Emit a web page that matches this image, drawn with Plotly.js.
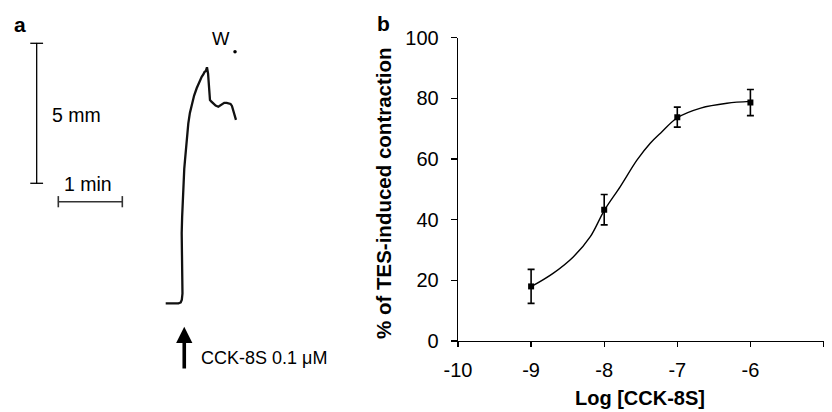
<!DOCTYPE html>
<html>
<head>
<meta charset="utf-8">
<script src="https://cdn.plot.ly/plotly-3.0.1.min.js"></script>
<style>html,body{margin:0;padding:0;background:#fff}#chart{width:832px;height:412px}</style>
</head>
<body>
<div id="chart"></div>
<script>
// ---------- Panel b: concentration-response data ----------
const logConc   = [-9, -8, -7, -6];
const pctContr  = [18.0, 43.3, 73.8, 78.6];
const pctSem    = [5.6, 5.0, 3.3, 4.3];
// fitted curve
const fitX = [-9.0, -8.7, -8.42, -8.19, -8.0, -7.78, -7.55, -7.37, -7.23, -7.0, -6.68, -6.32, -6.0];
const fitY = [17.9, 22.3, 27.8, 34.4, 43.0, 50.9, 59.7, 65.2, 68.5, 73.6, 76.8, 78.4, 79.0];
const xTickVals = [-10, -9, -8, -7, -6, -5];
const xTickText = ["-10", "-9", "-8", "-7", "-6", "-5"];
const yTickVals = [0, 20, 40, 60, 80, 100];

// ---------- Panel a: tension trace (time in min, tension in mm) ----------
const traceMin = [0.0, 0.20, 0.235, 0.252, 0.262, 0.259, 0.252, 0.247, 0.25, 0.257, 0.266, 0.278, 0.29, 0.302, 0.317, 0.333, 0.353, 0.378, 0.406, 0.444, 0.484, 0.525, 0.5625, 0.59, 0.606, 0.628, 0.645, 0.662, 0.678, 0.692, 0.715, 0.739, 0.78, 0.822, 0.85, 0.88, 0.915, 0.953, 0.985, 1.013, 1.035, 1.052, 1.075, 1.098];
const traceMM  = [0.0, 0.0, 0.03, 0.13, 0.35, 0.83, 1.40, 1.90, 2.51, 3.10, 3.69, 4.35, 4.80, 5.12, 5.56, 5.98, 6.42, 6.80, 7.10, 7.42, 7.68, 7.90, 8.09, 8.18, 8.26, 8.30, 8.43, 8.20, 7.60, 7.26, 7.20, 7.15, 7.06, 7.02, 7.06, 7.12, 7.16, 7.16, 7.15, 7.12, 7.05, 6.90, 6.73, 6.55];
// scale bars: 5 mm vertical, 1 min horizontal
const scaleVertMin = [-2.016, -2.016];
const scaleVertMM  = [4.286, 9.286];
const scaleHorMin  = [-1.678, -0.678];
const scaleHorMM   = [3.629, 3.629];
const washMin = [1.083];
const washMM  = [8.986];

const FONT = "Liberation Sans, Arial, Helvetica, sans-serif";
const black = "#000";

const traces = [
  // panel b fitted curve
  {x: fitX, y: fitY, xaxis: "x", yaxis: "y", mode: "lines",
   line: {color: black, width: 1.4, shape: "spline", smoothing: 1.0}, hoverinfo: "skip"},
  // panel b data points
  {x: logConc, y: pctContr, xaxis: "x", yaxis: "y", mode: "markers",
   marker: {symbol: "square", size: 6, color: black},
   error_y: {type: "data", array: pctSem, visible: true, color: black, thickness: 1.6, width: 3.5}},
  // panel a trace
  {x: traceMin, y: traceMM, xaxis: "x2", yaxis: "y2", mode: "lines",
   line: {color: "#111", width: 2.3, shape: "linear"}, hoverinfo: "skip"},
  // scale bars
  {x: scaleVertMin, y: scaleVertMM, xaxis: "x2", yaxis: "y2", mode: "lines",
   line: {color: black, width: 1.3}, hoverinfo: "skip"},
  {x: scaleHorMin, y: scaleHorMM, xaxis: "x2", yaxis: "y2", mode: "lines",
   line: {color: "#333", width: 1.6}, hoverinfo: "skip"},
  // end caps for the scale bars
  {x: scaleVertMin, y: scaleVertMM, xaxis: "x2", yaxis: "y2", mode: "markers",
   marker: {size: 1, color: black},
   error_x: {type: "constant", value: 0.1, color: black, thickness: 1.3, width: 0}, hoverinfo: "skip"},
  {x: scaleHorMin, y: scaleHorMM, xaxis: "x2", yaxis: "y2", mode: "markers",
   marker: {size: 1, color: "#333"},
   error_y: {type: "constant", value: 0.2, color: "#333", thickness: 1.6, width: 0}, hoverinfo: "skip"},
  // wash-out dot
  {x: washMin, y: washMM, xaxis: "x2", yaxis: "y2", mode: "markers",
   marker: {size: 3.5, color: black}, hoverinfo: "skip"}
];

const W = 832, H = 412;
const layout = {
  width: W, height: H,
  margin: {l: 0, r: 0, t: 0, b: 0},
  paper_bgcolor: "#fff", plot_bgcolor: "rgba(0,0,0,0)",
  showlegend: false,
  font: {family: FONT, color: black},
  xaxis: {
    domain: [458 / W, 823.5 / W], anchor: "y",
    range: [-10, -5], tickvals: xTickVals, ticktext: xTickText,
    showgrid: false, zeroline: false, showline: true, linecolor: black, linewidth: 1.3,
    ticks: "outside", ticklen: 5, tickwidth: 1.3, tickcolor: black,
    tickfont: {size: 20, family: FONT, color: black}, ticklabelstandoff: 6
  },
  yaxis: {
    domain: [1 - 341 / H, 1 - 37.7 / H], anchor: "x",
    range: [0, 100], tickvals: yTickVals,
    showgrid: false, zeroline: false, showline: true, linecolor: black, linewidth: 1.3,
    ticks: "outside", ticklen: 6, tickwidth: 1.3, tickcolor: black,
    tickfont: {size: 20, family: FONT, color: black}, ticklabelstandoff: 8
  },
  xaxis2: {
    domain: [0, 1], anchor: "y2", range: [-165.7 / 64, (W - 165.7) / 64],
    visible: false, fixedrange: true
  },
  yaxis2: {
    domain: [0, 1], anchor: "x2", range: [-(H - 303.3) / 28, 303.3 / 28],
    visible: false, fixedrange: true
  },
  annotations: [
    {text: "<b>Log [CCK-8S]</b>", xref: "paper", yref: "paper", x: 640 / W, y: 1 - 398 / H,
     xanchor: "center", yanchor: "middle", showarrow: false,
     font: {size: 20, family: FONT, color: black}},
    {text: "<b>% of TES-induced contraction</b>", xref: "paper", yref: "paper", x: 383 / W, y: 1 - 193 / H,
     xanchor: "center", yanchor: "middle", textangle: -90, showarrow: false,
     font: {size: 20.5, family: FONT, color: black}},
    {text: "<b>a</b>", xref: "x2", yref: "y2", x: -2.277, y: 9.94, showarrow: false,
     xanchor: "center", yanchor: "middle", font: {size: 21, family: FONT, color: black}},
    {text: "<b>b</b>", xref: "paper", yref: "paper", x: 383 / W, y: 1 - 24 / H, showarrow: false,
     xanchor: "center", yanchor: "middle", font: {size: 21, family: FONT, color: black}},
    {text: "5 mm", xref: "x2", yref: "y2", x: -1.808, y: 6.725, xanchor: "left", yanchor: "middle", showarrow: false,
     font: {size: 19.5, family: FONT, color: black}},
    {text: "1 min", xref: "x2", yref: "y2", x: -1.214, y: 4.26, xanchor: "center", yanchor: "middle", showarrow: false,
     font: {size: 19.5, family: FONT, color: black}},
    {text: "W", xref: "x2", yref: "y2", x: 0.864, y: 9.475, xanchor: "center", yanchor: "middle", showarrow: false,
     font: {size: 18.5, family: FONT, color: black}},
    {text: "CCK-8S 0.1 \u03bcM", xref: "x2", yref: "y2", x: 0.52, y: -1.95, xanchor: "left", yanchor: "middle", showarrow: false,
     font: {size: 18, family: FONT, color: black}},
    {text: "", xref: "x2", yref: "y2", axref: "x2", ayref: "y2",
     x: 0.29, y: -0.836, ax: 0.29, ay: -2.38, showarrow: true,
     arrowhead: 2, arrowsize: 0.9, arrowwidth: 3.6, arrowcolor: black}
  ]
};

Plotly.newPlot("chart", traces, layout, {displayModeBar: false, staticPlot: true});
</script>
</body>
</html>
